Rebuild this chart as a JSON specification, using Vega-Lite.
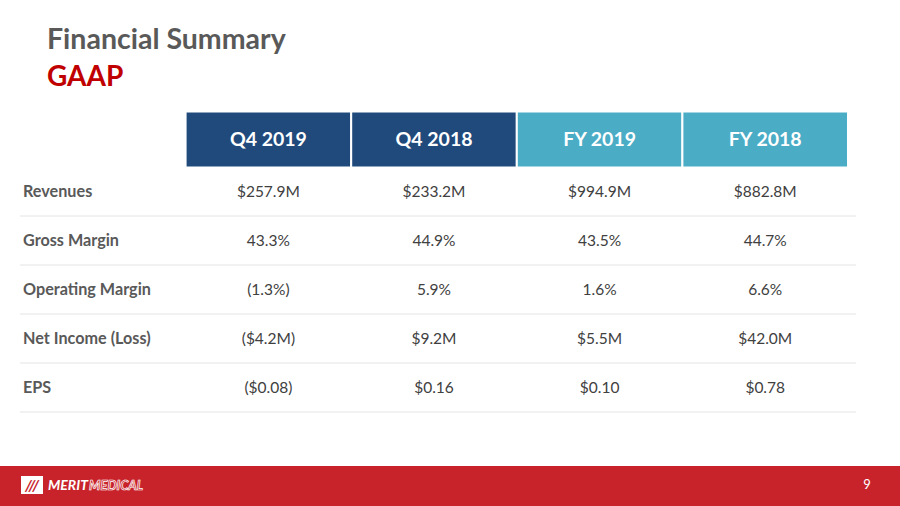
{
  "$schema": "https://vega.github.io/schema/vega-lite/v6.json",
  "width": 836,
  "height": 294,
  "autosize": {"type": "none"},
  "padding": {"left": 20, "top": 118, "right": 44, "bottom": 94},
  "background": "white",
  "config": {"view": {"stroke": null}, "font": "Lato"},
  "title": {
    "text": "Financial Summary",
    "subtitle": "GAAP",
    "anchor": "start",
    "frame": "group",
    "dx": 27,
    "offset": 19,
    "font": "Lato",
    "fontSize": 28.5,
    "fontWeight": "bold",
    "color": "#595959",
    "subtitleFont": "Lato",
    "subtitleFontSize": 28,
    "subtitleFontWeight": "bold",
    "subtitleColor": "#C00000",
    "subtitlePadding": 9
  },
  "datasets": {
    "header": [
      {"col": "Q4 2019", "kind": "Q4"},
      {"col": "Q4 2018", "kind": "Q4"},
      {"col": "FY 2019", "kind": "FY"},
      {"col": "FY 2018", "kind": "FY"}
    ],
    "metrics": [
      {"metric": "Revenues"},
      {"metric": "Gross Margin"},
      {"metric": "Operating Margin"},
      {"metric": "Net Income (Loss)"},
      {"metric": "EPS"}
    ],
    "cells": [
      {"metric": "Revenues", "col": "Q4 2019", "value": "$257.9M"},
      {"metric": "Revenues", "col": "Q4 2018", "value": "$233.2M"},
      {"metric": "Revenues", "col": "FY 2019", "value": "$994.9M"},
      {"metric": "Revenues", "col": "FY 2018", "value": "$882.8M"},
      {"metric": "Gross Margin", "col": "Q4 2019", "value": "43.3%"},
      {"metric": "Gross Margin", "col": "Q4 2018", "value": "44.9%"},
      {"metric": "Gross Margin", "col": "FY 2019", "value": "43.5%"},
      {"metric": "Gross Margin", "col": "FY 2018", "value": "44.7%"},
      {"metric": "Operating Margin", "col": "Q4 2019", "value": "(1.3%)"},
      {"metric": "Operating Margin", "col": "Q4 2018", "value": "5.9%"},
      {"metric": "Operating Margin", "col": "FY 2019", "value": "1.6%"},
      {"metric": "Operating Margin", "col": "FY 2018", "value": "6.6%"},
      {"metric": "Net Income (Loss)", "col": "Q4 2019", "value": "($4.2M)"},
      {"metric": "Net Income (Loss)", "col": "Q4 2018", "value": "$9.2M"},
      {"metric": "Net Income (Loss)", "col": "FY 2019", "value": "$5.5M"},
      {"metric": "Net Income (Loss)", "col": "FY 2018", "value": "$42.0M"},
      {"metric": "EPS", "col": "Q4 2019", "value": "($0.08)"},
      {"metric": "EPS", "col": "Q4 2018", "value": "$0.16"},
      {"metric": "EPS", "col": "FY 2019", "value": "$0.10"},
      {"metric": "EPS", "col": "FY 2018", "value": "$0.78"}
    ]
  },
  "layer": [
    {
      "data": {"name": "header"},
      "mark": {"type": "rect", "height": 56, "yOffset": -3, "stroke": "white", "strokeWidth": 2},
      "encoding": {
        "x": {"field": "col", "type": "nominal", "axis": null, "scale": {"type": "band", "domain": ["label", "Q4 2019", "Q4 2018", "FY 2019", "FY 2018"], "range": [0, 828], "paddingInner": 0, "paddingOuter": 0}},
        "y": {"datum": "header", "type": "nominal", "axis": null, "scale": {"type": "band", "domain": ["header", "Revenues", "Gross Margin", "Operating Margin", "Net Income (Loss)", "EPS"], "paddingInner": 0, "paddingOuter": 0}},
        "color": {"field": "kind", "type": "nominal", "legend": null, "scale": {"domain": ["Q4", "FY"], "range": ["#204A7C", "#4BACC6"]}}
      }
    },
    {
      "data": {"name": "header"},
      "mark": {"type": "text", "yOffset": -3, "color": "white", "fontWeight": "bold", "fontSize": 19.5, "font": "Lato"},
      "encoding": {
        "x": {"field": "col", "type": "nominal"},
        "y": {"datum": "header", "type": "nominal"},
        "text": {"field": "col"}
      }
    },
    {
      "data": {"name": "metrics"},
      "mark": {"type": "rule", "color": "#E4E4E4", "strokeWidth": 1},
      "encoding": {
        "y": {"field": "metric", "type": "nominal", "bandPosition": 1},
        "x": {"value": 0},
        "x2": {"value": "width"}
      }
    },
    {
      "data": {"name": "metrics"},
      "mark": {"type": "text", "align": "left", "dx": 3, "color": "#595959", "fontWeight": "bold", "fontSize": 16.2, "font": "Lato"},
      "encoding": {
        "x": {"datum": "label", "type": "nominal", "bandPosition": 0},
        "y": {"field": "metric", "type": "nominal"},
        "text": {"field": "metric"}
      }
    },
    {
      "data": {"name": "cells"},
      "mark": {"type": "text", "color": "#404040", "fontSize": 15.5, "font": "Lato"},
      "encoding": {
        "x": {"field": "col", "type": "nominal"},
        "y": {"field": "metric", "type": "nominal"},
        "text": {"field": "value"}
      }
    },
    {
      "data": {"values": [{}]},
      "mark": {"type": "rect", "color": "#C8232B"},
      "encoding": {
        "x": {"value": -20},
        "x2": {"value": 880},
        "y": {"value": 348},
        "y2": {"value": 388}
      }
    },
    {
      "data": {"values": [{}]},
      "mark": {"type": "rect", "color": "white"},
      "encoding": {
        "x": {"value": 1},
        "x2": {"value": 23},
        "y": {"value": 358},
        "y2": {"value": 376}
      }
    },
    {
      "data": {"values": [{}]},
      "mark": {"type": "text", "color": "#C8232B", "fontWeight": "bold", "fontStyle": "italic", "fontSize": 16, "font": "Lato", "align": "center", "baseline": "middle"},
      "encoding": {
        "x": {"value": 12},
        "y": {"value": 367.5},
        "text": {"value": "///"}
      }
    },
    {
      "data": {"values": [{}]},
      "mark": {"type": "text", "color": "white", "fontWeight": "bold", "fontStyle": "italic", "fontSize": 14, "font": "Lato", "align": "left", "baseline": "middle"},
      "encoding": {
        "x": {"value": 28},
        "y": {"value": 367.5},
        "text": {"value": "MERIT"}
      }
    },
    {
      "data": {"values": [{}]},
      "mark": {"type": "text", "color": "#C8232B", "stroke": "white", "strokeWidth": 0.7, "fontWeight": "bold", "fontStyle": "italic", "fontSize": 13, "font": "Lato", "align": "left", "baseline": "middle"},
      "encoding": {
        "x": {"value": 69},
        "y": {"value": 367.5},
        "text": {"value": "MEDICAL"}
      }
    },
    {
      "data": {"values": [{}]},
      "mark": {"type": "text", "color": "white", "fontSize": 13, "font": "Lato", "align": "center", "baseline": "middle"},
      "encoding": {
        "x": {"value": 847},
        "y": {"value": 367},
        "text": {"value": "9"}
      }
    }
  ]
}
